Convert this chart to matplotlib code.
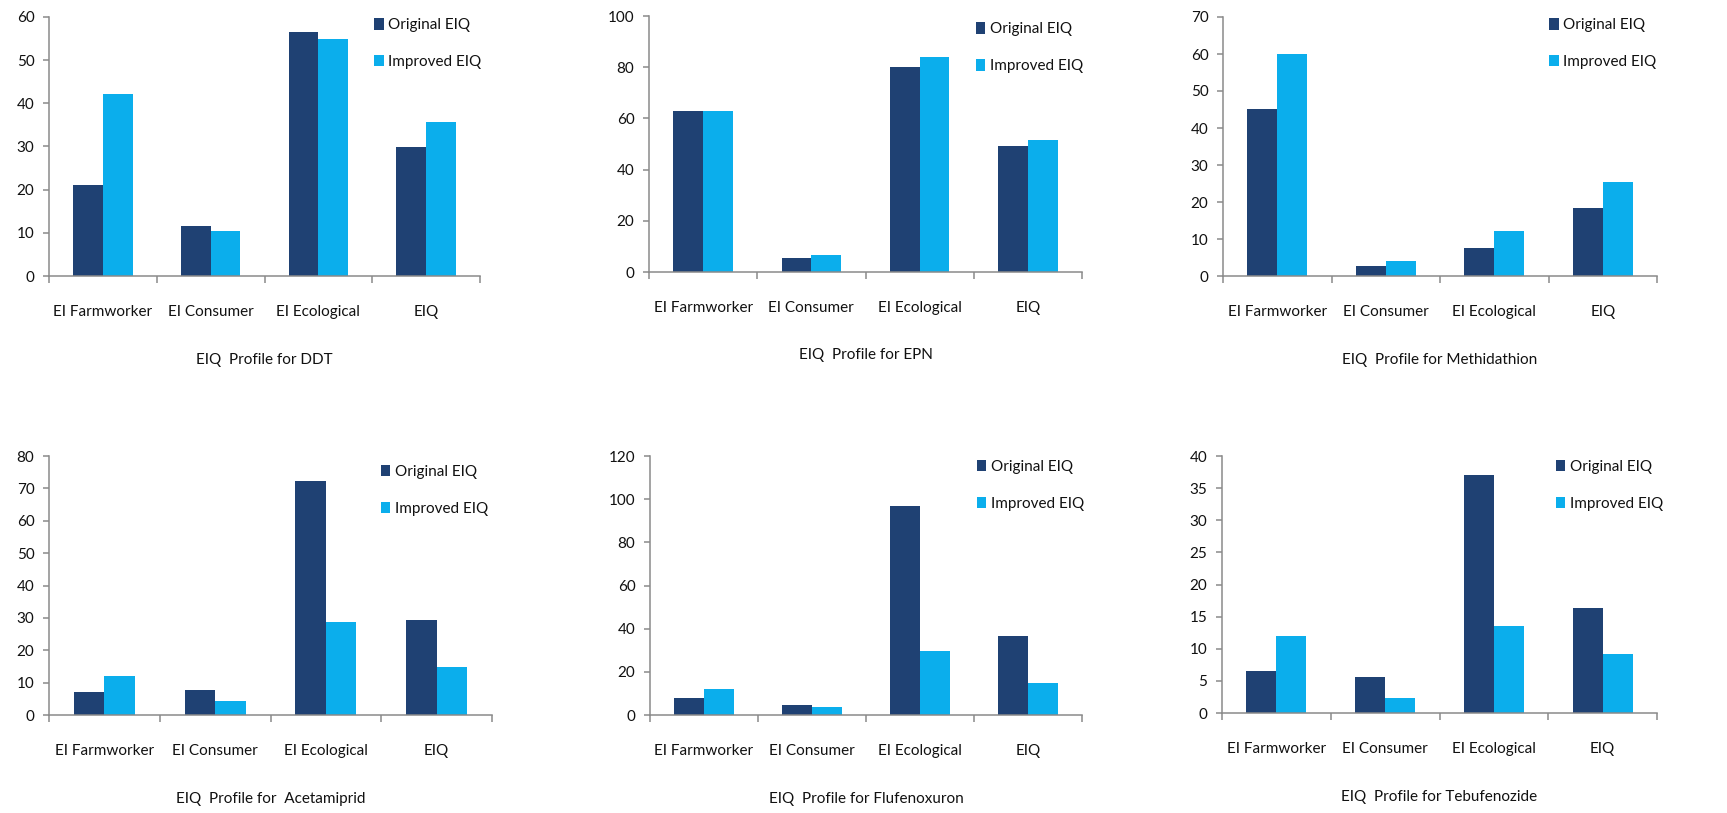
import matplotlib
matplotlib.use("Agg")
import matplotlib.pyplot as plt
import numpy as np

categories = ["EI Farmworker", "EI Consumer", "EI Ecological", "EIQ"]
series_names = ["Original EIQ", "Improved EIQ"]

ddt_original = [21.0, 11.6, 56.5, 29.9]
ddt_improved = [42.1, 10.4, 54.8, 35.7]

epn_original = [62.9, 5.3, 79.9, 49.4]
epn_improved = [62.9, 6.6, 84.0, 51.4]

methidathion_original = [45.1, 2.7, 7.6, 18.5]
methidathion_improved = [59.9, 4.1, 12.2, 25.4]

acetamiprid_original = [7.1, 7.6, 72.4, 29.2]
acetamiprid_improved = [12.1, 4.2, 28.8, 14.8]

flufenoxuron_original = [7.9, 4.5, 97.0, 36.8]
flufenoxuron_improved = [12.2, 3.7, 29.5, 14.8]

tebufenozide_original = [6.6, 5.6, 37.0, 16.3]
tebufenozide_improved = [12.0, 2.4, 13.5, 9.2]

titles = [
    "EIQ  Profile for DDT",
    "EIQ  Profile for EPN",
    "EIQ  Profile for Methidathion",
    "EIQ  Profile for  Acetamiprid",
    "EIQ  Profile for Flufenoxuron",
    "EIQ  Profile for Tebufenozide",
]
y_max = [60, 100, 70, 80, 120, 40]
y_step = [10, 20, 10, 10, 20, 5]

panels = [
    (ddt_original, ddt_improved),
    (epn_original, epn_improved),
    (methidathion_original, methidathion_improved),
    (acetamiprid_original, acetamiprid_improved),
    (flufenoxuron_original, flufenoxuron_improved),
    (tebufenozide_original, tebufenozide_improved),
]

# axes rectangles in figure pixels: left, right, top, bottom
W, H = 1727, 813
boxes = [
    (49, 480, 17, 276),
    (649, 1082, 16, 272),
    (1223, 1657, 17, 276),
    (49, 492, 456, 715),
    (650, 1082, 456, 715),
    (1222, 1657, 456, 713),
]
legend_anchor = [
    (0.755, 0.995), (0.755, 0.975), (0.752, 0.995),
    (0.750, 0.965), (0.757, 0.985), (0.768, 0.985),
]

DARK = "#1F4173"
LIGHT = "#0BAEEC"
AXIS = "#8A8A8A"
TEXT = "#111111"
FONT = "Lato"
FS = 11

plt.rcParams["font.family"] = [FONT, "DejaVu Sans"]

fig = plt.figure(figsize=(W / 100, H / 100), dpi=100)
fig.patch.set_facecolor("white")

x = np.arange(len(categories))
bw = 0.275

for i, ((orig, impr), (l, r, t, b)) in enumerate(zip(panels, boxes)):
    ax = fig.add_axes([l / W, 1 - b / H, (r - l) / W, (b - t) / H])
    ax.bar(x - bw / 2, orig, bw, color=DARK, label=series_names[0], zorder=2)
    ax.bar(x + bw / 2, impr, bw, color=LIGHT, label=series_names[1], zorder=2)
    ax.set_xlim(-0.5, len(categories) - 0.5)
    ax.set_ylim(0, y_max[i])
    ax.set_yticks(np.arange(0, y_max[i] + 0.01, y_step[i]))
    ax.set_xticks(x)
    ax.set_xticklabels(categories)
    ax.set_xticks(np.arange(-0.5, len(categories) + 0.5, 1), minor=True)
    ax.tick_params(axis="x", which="major", length=0, pad=21,
                   labelsize=FS, labelcolor=TEXT)
    ax.tick_params(axis="x", which="minor", length=5, width=1.1,
                   color=AXIS, direction="out")
    ax.tick_params(axis="y", which="major", length=4.5, width=1.1,
                   color=AXIS, direction="out", pad=6,
                   labelsize=FS, labelcolor=TEXT)
    for s in ("top", "right"):
        ax.spines[s].set_visible(False)
    for s in ("left", "bottom"):
        ax.spines[s].set_color(AXIS)
        ax.spines[s].set_linewidth(1.1)
    ax.set_xlabel(titles[i], fontsize=FS, color=TEXT, labelpad=24)
    ax.legend(loc="upper left", bbox_to_anchor=legend_anchor[i],
              frameon=False, fontsize=FS, labelcolor=TEXT,
              handlelength=0.6, handleheight=0.75, handletextpad=0.3,
              labelspacing=1.5, borderpad=0, borderaxespad=0)

fig.savefig("out.png", dpi=100, facecolor="white")
